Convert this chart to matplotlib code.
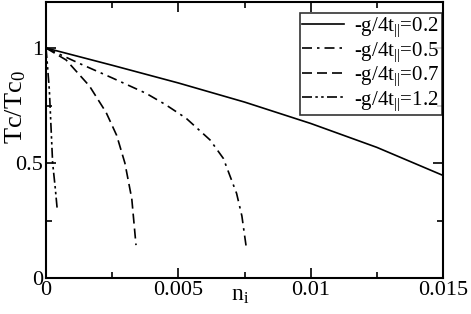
import matplotlib
matplotlib.use("Agg")
import matplotlib.pyplot as plt
from matplotlib.ticker import MultipleLocator

plt.rcParams['font.family'] = ['Liberation Serif', 'DejaVu Serif']
plt.rcParams['mathtext.fontset'] = 'custom'
plt.rcParams['mathtext.rm'] = 'Liberation Serif'
plt.rcParams['mathtext.it'] = 'Liberation Serif:italic'

# curves
x_02 = [0, 0.0025, 0.005, 0.0075, 0.01, 0.0125, 0.015]
y_02 = [1, 0.925, 0.848, 0.765, 0.672, 0.568, 0.446]

x_05 = [0, 0.00126, 0.0025, 0.00378, 0.0045, 0.00529, 0.0062, 0.0067, 0.0072, 0.0074, 0.00758]
y_05 = [1, 0.933, 0.87, 0.803, 0.755, 0.695, 0.60, 0.52, 0.368, 0.27, 0.122]

x_07 = [0, 0.00076, 0.00164, 0.00227, 0.00267, 0.00298, 0.00324, 0.0034]
y_07 = [1, 0.948, 0.835, 0.72, 0.62, 0.50, 0.345, 0.143]

x_12 = [0, 0.00005, 0.000126, 0.00025, 0.00035, 0.00042]
y_12 = [1, 0.93, 0.817, 0.5, 0.39, 0.303]

labels = ['-g/4t$_{||}$=0.2', '-g/4t$_{||}$=0.5', '-g/4t$_{||}$=0.7', '-g/4t$_{||}$=1.2']

fig = plt.figure(figsize=(4.71, 3.14), dpi=100)
ax = fig.add_axes([0.0977, 0.1146, 0.8429, 0.879])

lw = 1.2
ax.plot(x_02, y_02, color='black', lw=lw, ls='-', label=labels[0])
ax.plot(x_05, y_05, color='black', lw=lw, ls=(0, (6, 3, 1.5, 3)), label=labels[1])
ax.plot(x_07, y_07, color='black', lw=lw, ls=(0, (6, 3)), label=labels[2])
ax.plot(x_12, y_12, color='black', lw=lw, ls=(0, (6, 2, 1.5, 2, 1.5, 2)), label=labels[3])

ax.set_xlim(0, 0.015)
ax.set_ylim(0, 1.2)
ax.xaxis.set_minor_locator(MultipleLocator(0.0025))
ax.yaxis.set_minor_locator(MultipleLocator(0.25))
ax.set_xticks([0, 0.005, 0.01, 0.015])
ax.set_xticklabels(['0', '0.005', '0.01', '0.015'])
ax.set_yticks([0, 0.5, 1])
ax.set_yticklabels(['0', '0.5', '1'])
ax.tick_params(which='both', direction='in', top=True, right=True, labelsize=16, width=1.2)
ax.tick_params(which='major', length=7, pad=2)
ax.tick_params(which='minor', length=4)
for s in ax.spines.values():
    s.set_linewidth(1.5)

ax.set_xlabel('n$_{\\mathrm{i}}$', fontsize=17)
ax.xaxis.set_label_coords(0.49, -0.025, transform=ax.transAxes)
ax.xaxis.label.set_va('top')
ax.set_ylabel('Tc/Tc$_{0}$', fontsize=19)
ax.yaxis.set_label_coords(-0.045, 0.62)

leg = ax.legend(loc='upper right', bbox_to_anchor=(0.9975, 0.96), fontsize=15,
                frameon=True, fancybox=False, handlelength=2.0, handletextpad=0.5,
                borderpad=0.12, labelspacing=0.05, borderaxespad=0)
leg.get_frame().set_edgecolor('black')
leg.get_frame().set_linewidth(1.2)

fig.savefig('out.png', dpi=100)
